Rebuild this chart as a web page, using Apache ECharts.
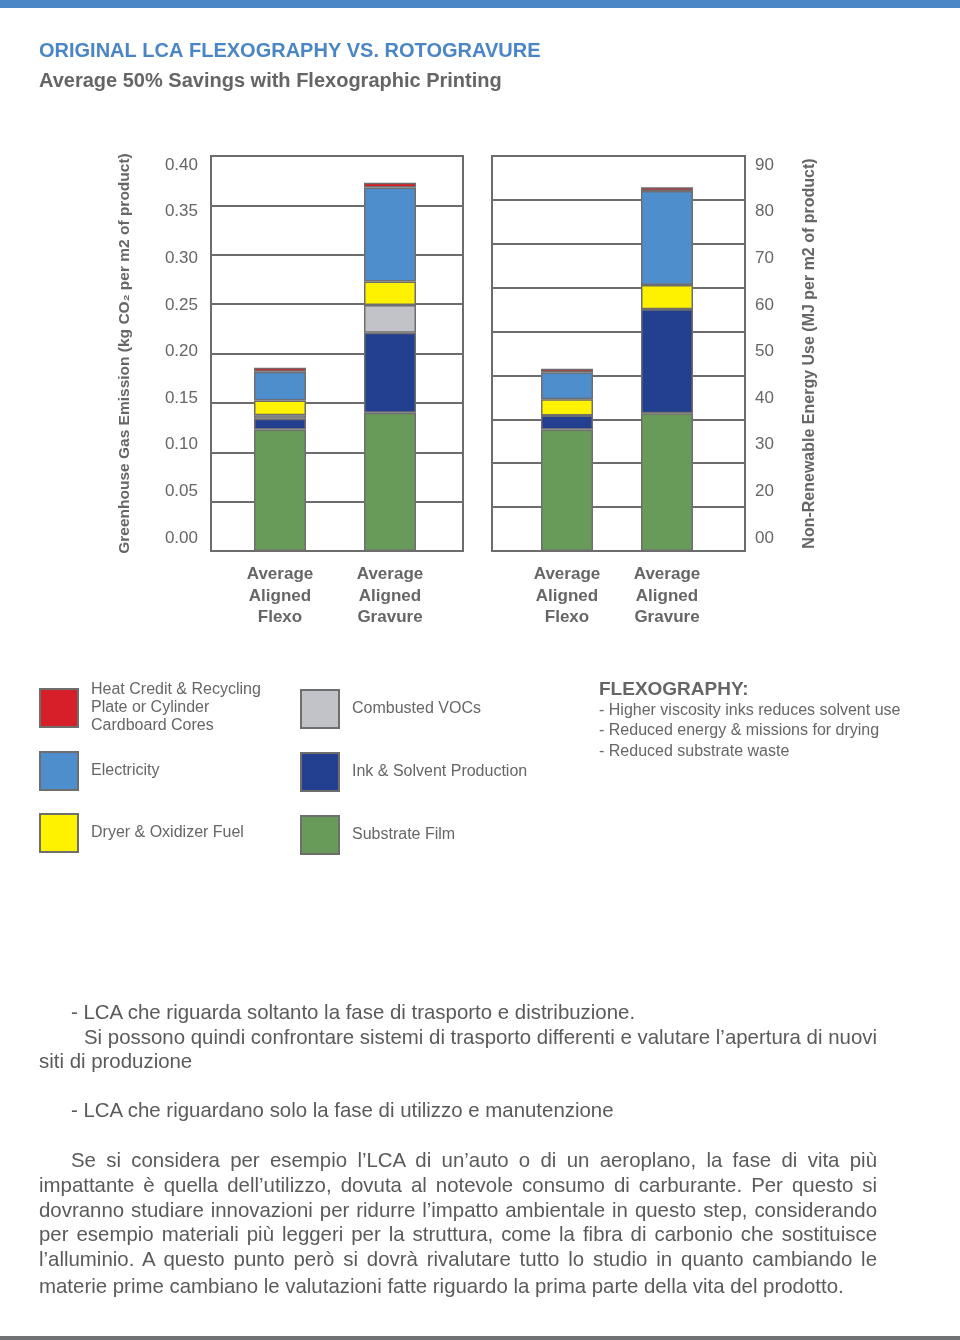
<!DOCTYPE html>
<html>
<head>
<meta charset="utf-8">
<script src="https://cdn.jsdelivr.net/npm/echarts@6/dist/echarts.min.js"></script>
<style>
  html, body { margin: 0; padding: 0; background: #fff; }
  #wrap { position: relative; width: 960px; height: 1340px; overflow: hidden; }
  #chart { position: absolute; left: 0; top: 0; width: 960px; height: 1340px; }
  .ln { position: absolute; font-family: "Liberation Sans", Arial, sans-serif;
        font-size: 21px; line-height: 25px; color: #5a5a5a; white-space: nowrap;
        transform-origin: 0 0; }
</style>
</head>
<body>
<div id="wrap">
  <div id="chart"></div>
  <div class="ln" data-l="71" style="top:999px;">- LCA che riguarda soltanto la fase di trasporto e distribuzione.</div>
  <div class="ln" id="ref" data-l="84" style="top:1024px;">Si possono quindi confrontare sistemi di trasporto differenti e valutare l’apertura di nuovi</div>
  <div class="ln" data-l="39" style="top:1048px;">siti di produzione</div>
  <div class="ln" data-l="71" style="top:1097px;">- LCA che riguardano solo la fase di utilizzo e manutenzione</div>
  <div class="ln" data-l="71" data-j="877" style="top:1147px;">Se si considera per esempio l’LCA di un’auto o di un aeroplano, la fase di vita più</div>
  <div class="ln" data-l="39" data-j="877" style="top:1172px;">impattante è quella dell’utilizzo, dovuta al notevole consumo di carburante. Per questo si</div>
  <div class="ln" data-l="39" data-j="877" style="top:1197px;">dovranno studiare innovazioni per ridurre l’impatto ambientale in questo step, considerando</div>
  <div class="ln" data-l="39" data-j="877" style="top:1221px;">per esempio materiali più leggeri per la struttura, come la fibra di carbonio che sostituisce</div>
  <div class="ln" data-l="39" data-j="877" style="top:1246px;">l’alluminio. A questo punto però si dovrà rivalutare tutto lo studio in quanto cambiando le</div>
  <div class="ln" data-l="39" style="top:1273px;">materie prime cambiano le valutazioni fatte riguardo la prima parte della vita del prodotto.</div>
</div>
<script>
// ---- data ----
const categories = ['Average\nAligned\nFlexo', 'Average\nAligned\nGravure'];
const seriesNames = ['Substrate Film', 'Ink & Solvent Production', 'Combusted VOCs',
                     'Dryer & Oxidizer Fuel', 'Electricity', 'Heat Credit & Recycling Plate or Cylinder Cardboard Cores'];
// Greenhouse gas (kg CO2 per m2)
const ghgSubstrate   = [0.123, 0.140];
const ghgInk         = [0.011, 0.081];
const ghgVOC         = [0.0035, 0.028];
const ghgDryer       = [0.015, 0.024];
const ghgElectricity = [0.029, 0.095];
const ghgHeat        = [0.004, 0.005];
// Non-renewable energy (MJ per m2)
const nreSubstrate   = [27.7, 31.4];
const nreInk         = [3.2, 23.7];
const nreVOC         = [0, 0];
const nreDryer       = [3.7, 5.5];
const nreElectricity = [6.1, 21.4];
const nreHeat        = [0.8, 0.9];
// tick labels
const ghgTicks = ['0.00', '0.05', '0.10', '0.15', '0.20', '0.25', '0.30', '0.35', '0.40'];
const nreTicks = ['00', '20', '30', '40', '50', '60', '70', '80', '90'];

// ---- body text fitting (condensed look) ----
(function fitText() {
  const refEl = document.getElementById('ref');
  const s = 793 / refEl.getBoundingClientRect().width;
  document.querySelectorAll('.ln').forEach(el => {
    const left = +el.dataset.l;
    el.style.left = left + 'px';
    const w = el.getBoundingClientRect().width;
    el.style.transform = 'scaleX(' + s + ')';
    if (el.dataset.j) {
      const target = (+el.dataset.j - left) / s;
      const spaces = (el.textContent.match(/ /g) || []).length;
      if (spaces > 0) el.style.wordSpacing = ((target - w) / spaces) + 'px';
    }
  });
})();

// ---- styles ----
const colors = ['#689b5a', '#233f8f', '#c2c3c8', '#fff200', '#4f8ecd', '#d71f2a'];
const FONT = '"Liberation Sans", Arial, sans-serif';
const GREY = '#666666';
const LINE = '#6c6c6c';

const chart = echarts.init(document.getElementById('chart'), null, { renderer: 'canvas' });

const ghgData = [ghgSubstrate, ghgInk, ghgVOC, ghgDryer, ghgElectricity, ghgHeat];
const nreData = [nreSubstrate, nreInk, nreVOC, nreDryer, nreElectricity, nreHeat];

function barSeries(name, data, color, xi, yi, stack) {
  return {
    type: 'bar', name: name, data: data, stack: stack,
    xAxisIndex: xi, yAxisIndex: yi, barWidth: 52,
    itemStyle: { color: color, borderColor: '#6e6e6e', borderWidth: 1.5 },
    emphasis: { disabled: true }
  };
}

const series = [];
seriesNames.forEach((n, i) => series.push(barSeries(n, ghgData[i], colors[i], 1, 1, 'ghg')));
seriesNames.forEach((n, i) => series.push(barSeries(n, nreData[i], colors[i], 3, 3, 'nre')));

function legendAt(name, left, top) {
  return {
    data: [name], left: left, top: top, padding: 0, orient: 'vertical',
    itemWidth: 38, itemHeight: 38, selectedMode: false,
    icon: 'rect',
    textStyle: {
      fontFamily: FONT, fontSize: 16, color: GREY, lineHeight: 18, padding: [0, 0, 0, 8]
    },
    formatter: function (n) {
      if (n.indexOf('Heat Credit') === 0) return 'Heat Credit & Recycling\nPlate or Cylinder\nCardboard Cores';
      return n;
    }
  };
}

const boxAxisY = (min, max, interval, pos, gi, name, gap, fs) => ({
  type: 'value', gridIndex: gi, min: min, max: max, interval: interval, position: pos,
  axisLine: { show: false }, axisTick: { show: false }, axisLabel: { show: false },
  splitLine: { show: true, lineStyle: { color: LINE, width: 2 } },
  name: name, nameLocation: 'middle', nameRotate: 90, nameGap: gap,
  nameTextStyle: { fontFamily: FONT, fontSize: fs, fontWeight: 'bold', color: GREY }
});

const option = {
  animation: false,
  backgroundColor: '#ffffff',
  title: {
    text: 'ORIGINAL LCA FLEXOGRAPHY VS. ROTOGRAVURE',
    subtext: 'Average 50% Savings with Flexographic Printing',
    left: 39, top: 41, padding: 0, itemGap: 10,
    textStyle: { fontFamily: FONT, fontSize: 20, fontWeight: 'bold', color: '#4a86c5', lineHeight: 20 },
    subtextStyle: { fontFamily: FONT, fontSize: 20, fontWeight: 'bold', color: '#656565', lineHeight: 20 }
  },
  legend: [
    legendAt(seriesNames[5], 39, 681),
    legendAt(seriesNames[4], 39, 751),
    legendAt(seriesNames[3], 39, 813),
    legendAt(seriesNames[2], 300, 689),
    legendAt(seriesNames[1], 300, 752),
    legendAt(seriesNames[0], 300, 815)
  ],
  grid: [
    { left: 211, top: 156, width: 252, height: 395, show: true, borderColor: LINE, borderWidth: 2, backgroundColor: 'transparent' },
    { left: 225, top: 156, width: 220, height: 395 },
    { left: 492, top: 156, width: 253, height: 395, show: true, borderColor: LINE, borderWidth: 2, backgroundColor: 'transparent' },
    { left: 517, top: 156, width: 200, height: 395 },
    { left: 211, top: 165, width: 1, height: 373 },
    { left: 744, top: 165, width: 1, height: 373 }
  ],
  xAxis: [
    { type: 'value', gridIndex: 0, show: false },
    { type: 'category', gridIndex: 1, data: categories,
      axisLine: { show: false }, axisTick: { show: false },
      axisLabel: { fontFamily: FONT, fontSize: 17, fontWeight: 'bold', color: GREY, lineHeight: 21.5, margin: 13 } },
    { type: 'value', gridIndex: 2, show: false },
    { type: 'category', gridIndex: 3, data: categories,
      axisLine: { show: false }, axisTick: { show: false },
      axisLabel: { fontFamily: FONT, fontSize: 17, fontWeight: 'bold', color: GREY, lineHeight: 21.5, margin: 13 } },
    { type: 'value', gridIndex: 4, show: false },
    { type: 'value', gridIndex: 5, show: false }
  ],
  yAxis: [
    boxAxisY(0, 0.4, 0.05, 'left', 0, 'Greenhouse Gas Emission (kg CO₂ per m2 of product)', 78, 15.5),
    { type: 'value', gridIndex: 1, min: 0, max: 0.4, interval: 0.05, show: false },
    boxAxisY(0, 90, 10, 'right', 2, 'Non-Renewable Energy Use (MJ per m2 of product)', 57, 16),
    { type: 'value', gridIndex: 3, min: 0, max: 90, interval: 10, show: false },
    { type: 'category', gridIndex: 4, data: ghgTicks, boundaryGap: false, position: 'left',
      axisLine: { show: false }, axisTick: { show: false }, splitLine: { show: false },
      axisLabel: { fontFamily: FONT, fontSize: 17, color: GREY, margin: 13, interval: 0 } },
    { type: 'category', gridIndex: 5, data: nreTicks, boundaryGap: false, position: 'right',
      axisLine: { show: false }, axisTick: { show: false }, splitLine: { show: false },
      axisLabel: { fontFamily: FONT, fontSize: 17, color: GREY, margin: 10, interval: 0 } }
  ],
  graphic: [
    { type: 'rect', shape: { x: 0, y: 0, width: 960, height: 8 }, style: { fill: '#4b87c6' }, silent: true },
    { type: 'rect', shape: { x: 0, y: 1336, width: 960, height: 4 }, style: { fill: '#707274' }, silent: true },
    { type: 'text', x: 599, y: 690, style: { text: 'FLEXOGRAPHY:', font: 'bold 19px ' + FONT, fill: GREY, verticalAlign: 'middle' } },
    { type: 'text', x: 599, y: 711, style: { text: '- Higher viscosity inks reduces solvent use', font: '16px ' + FONT, fill: GREY, verticalAlign: 'middle' } },
    { type: 'text', x: 599, y: 731, style: { text: '- Reduced energy & missions for drying', font: '16px ' + FONT, fill: GREY, verticalAlign: 'middle' } },
    { type: 'text', x: 599, y: 752, style: { text: '- Reduced substrate waste', font: '16px ' + FONT, fill: GREY, verticalAlign: 'middle' } }
  ],
  series: series
};

chart.setOption(option);
</script>
</body>
</html>
